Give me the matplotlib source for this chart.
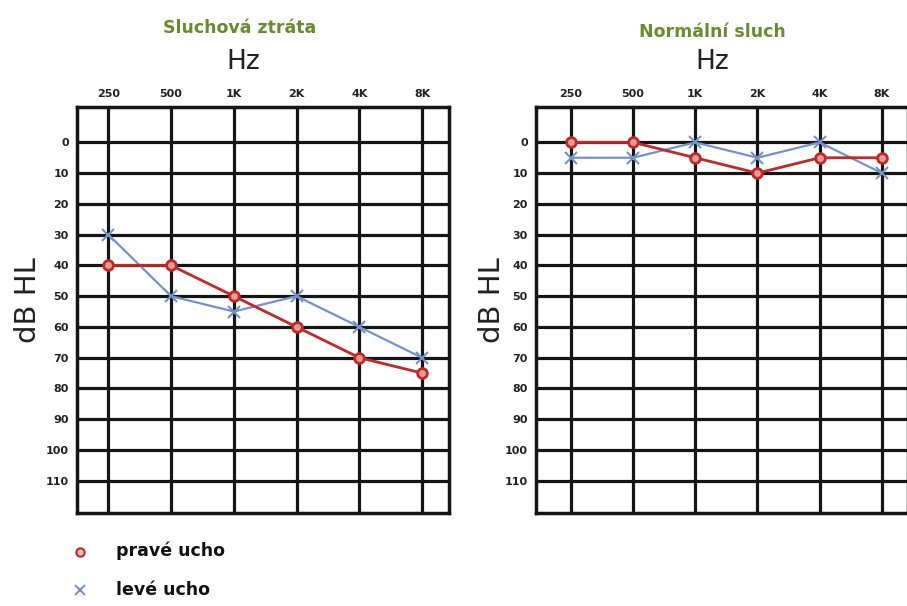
import matplotlib
matplotlib.use("Agg")
import matplotlib.pyplot as plt
from matplotlib.lines import Line2D

freq_labels = ["250", "500", "1K", "2K", "4K", "8K"]
db_ticks = [0, 10, 20, 30, 40, 50, 60, 70, 80, 90, 100, 110]

loss_right = [40, 40, 50, 60, 70, 75]
loss_left = [30, 50, 55, 50, 60, 70]
normal_right = [0, 0, 5, 10, 5, 5]
normal_left = [5, 5, 0, 5, 0, 10]

titles = ["Sluchová ztráta", "Normální sluch"]
legend_labels = ["pravé ucho", "levé ucho"]

RED = "#c0282a"
BLUE = "#7393c8"
GREEN = "#6b8a2c"
W, H = 907, 606

fig = plt.figure(figsize=(W / 100, H / 100), dpi=100)

def px(x0, y0, x1, y1):
    return [x0 / W, 1 - y1 / H, (x1 - x0) / W, (y1 - y0) / H]

panels = [
    (px(77, 107, 449, 513), (-0.5, 5.43), loss_right, loss_left, 240, 28, 243, 62, 28),
    (px(536, 107, 908, 513), (-0.56, 5.42), normal_right, normal_left, 712, 32, 712, 62, 492),
]

xs = list(range(len(freq_labels)))
for i, (rect, xl, r, l, tx, ty, hx, hy, dbx) in enumerate(panels):
    ax = fig.add_axes(rect)
    ax.set_xlim(*xl)
    ax.set_ylim(120.5, -11.5)
    ax.set_xticks(xs)
    ax.set_xticklabels(freq_labels, fontsize=8, fontweight="bold", color="#222222")
    ax.set_yticks(db_ticks)
    ax.set_yticklabels([str(v) for v in db_ticks], fontsize=8, fontweight="bold", color="#222222")
    ax.xaxis.tick_top()
    ax.tick_params(length=0, pad=6)
    ax.grid(True, color="#151515", linewidth=2.3)
    ax.set_axisbelow(True)
    for s in ax.spines.values():
        s.set_linewidth(2.5)
        s.set_color("#151515")
    ax.plot(xs, l, color=BLUE, linewidth=1.6, marker="x", markersize=8,
            markeredgewidth=1.5, zorder=3)
    ax.plot(xs, r, color=RED, linewidth=2.0, marker="o", markersize=7,
            markerfacecolor="#e89a90", markeredgecolor=RED, markeredgewidth=2.0, zorder=4)
    fig.text(tx / W, 1 - ty / H, titles[i], color=GREEN, fontsize=12.5,
             fontweight="bold", ha="center", va="center")
    fig.text(hx / W, 1 - hy / H, "Hz", color="#222222", fontsize=19,
             ha="center", va="center")
    fig.text(dbx / W, 1 - 300 / H, "dB HL", color="#222222", fontsize=21,
             ha="center", va="center", rotation=90)

# legend
lx = 80 / W
fig.add_artist(Line2D([lx], [1 - 552 / H], marker="o", color="none",
                      markeredgecolor=RED, markerfacecolor="#f0c0c0",
                      markersize=6, markeredgewidth=1.5, transform=fig.transFigure))
fig.add_artist(Line2D([lx], [1 - 590 / H], marker="x", color="none",
                      markeredgecolor=BLUE, markersize=7, markeredgewidth=1.5,
                      transform=fig.transFigure))
fig.text(116 / W, 1 - 551 / H, legend_labels[0], fontsize=12.5, fontweight="heavy",
         color="#111111", va="center", ha="left")
fig.text(116 / W, 1 - 590 / H, legend_labels[1], fontsize=12.5, fontweight="heavy",
         color="#111111", va="center", ha="left")

fig.savefig("out.png", dpi=100)
